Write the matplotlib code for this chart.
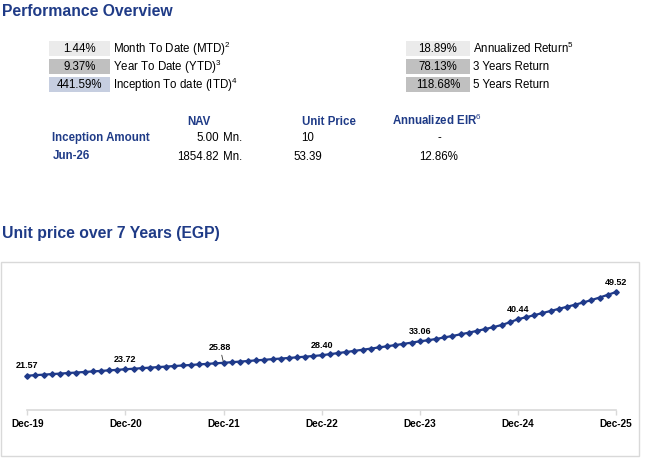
import matplotlib
matplotlib.use("Agg")
import matplotlib.pyplot as plt
from matplotlib.patches import Rectangle

plt.rcParams['font.family'] = ['Liberation Sans', 'DejaVu Sans']
plt.rcParams['mathtext.fontset'] = 'custom'
plt.rcParams['mathtext.rm'] = 'Liberation Sans'

# ---- data ----
left_values = ["1.44%", "9.37%", "441.59%"]
left_labels = ["Month To Date (MTD)$^{2}$", "Year To Date (YTD)$^{3}$", "Inception To date (ITD)$^{4}$"]
right_values = ["18.89%", "78.13%", "118.68%"]
right_labels = ["Annualized Return$^{5}$", "3 Years Return", "5 Years Return"]

table_headers = ["NAV", "Unit Price", "Annualized EIR$^{6}$"]
table_rows = ["Inception Amount", "Jun-26"]
nav_values = ["5.00", "1854.82"]
unit_prices = ["10", "53.39"]
eir_values = ["-", "12.86%"]

year_labels = ["Dec-19", "Dec-20", "Dec-21", "Dec-22", "Dec-23", "Dec-24", "Dec-25"]
# monthly unit price, Dec-19 .. Dec-25
unit_price = [
    21.57, 21.75, 21.92, 22.10, 22.27, 22.45, 22.63, 22.81, 22.99, 23.17, 23.35, 23.53,
    23.72, 23.90, 24.08, 24.26, 24.44, 24.62, 24.80, 24.98, 25.16, 25.34, 25.52, 25.70,
    25.88, 26.08, 26.28, 26.48, 26.69, 26.89, 27.10, 27.30, 27.50, 27.71, 27.93, 28.16,
    28.40, 28.76, 29.12, 29.49, 29.86, 30.24, 30.62, 31.01, 31.40, 31.80, 32.20, 32.62,
    33.06, 33.40, 33.85, 34.35, 34.85, 35.40, 35.95, 36.55, 37.15, 37.80, 38.50, 39.40,
    40.44, 41.10, 41.80, 42.50, 43.20, 43.90, 44.60, 45.30, 46.05, 46.85, 47.70, 48.60,
    49.52,
]

W, H = 652, 461
BLUE = '#1F3B87'
LINE = '#1F3A8A'

fig = plt.figure(figsize=(W / 100, H / 100), dpi=100)

# background axes in pixel coordinates for the text block
bg = fig.add_axes([0, 0, 1, 1])
bg.set_xlim(0, W)
bg.set_ylim(H, 0)
bg.axis('off')

bg.text(2, 12, "Performance Overview", fontsize=11.3, fontweight='bold', color=BLUE, va='center')
bg.text(2, 233, "Unit price over 7 Years (EGP)", fontsize=11.3, fontweight='bold', color=BLUE, va='center')

# return boxes
row_y = [41, 59, 77]
left_colors = ['#EBEBEB', '#C0C0C0', '#C6CEE0']
right_colors = ['#EBEBEB', '#C0C0C0', '#C0C0C0']
for i in range(3):
    y = row_y[i]
    bg.add_patch(Rectangle((49.3, y), 60.4, 14.7, facecolor=left_colors[i], edgecolor='none'))
    bg.text(79.5, y + 7.6, left_values[i], fontsize=8.3, ha='center', va='center')
    bg.text(113.3, y + 7.6, left_labels[i], fontsize=8.3, ha='left', va='center')
    bg.add_patch(Rectangle((406, y), 64, 14.7, facecolor=right_colors[i], edgecolor='none'))
    bg.text(438, y + 7.6, right_values[i], fontsize=8.3, ha='center', va='center')
    bg.text(473.3, y + 7.6, right_labels[i], fontsize=8.3, ha='left', va='center')

# NAV table
bg.text(199, 121.5, table_headers[0], fontsize=8.3, fontweight='bold', color=BLUE, ha='center', va='center')
bg.text(329, 121.5, table_headers[1], fontsize=8.3, fontweight='bold', color=BLUE, ha='center', va='center')
bg.text(437, 120.5, table_headers[2], fontsize=8.3, fontweight='bold', color=BLUE, ha='center', va='center')
table_y = [137.5, 156]
for i in range(2):
    y = table_y[i]
    bg.text(52.3, y, table_rows[i], fontsize=8.3, fontweight='bold', color=BLUE, ha='left', va='center')
    bg.text(219, y + 0.8, nav_values[i], fontsize=8.3, ha='right', va='center')
    bg.text(223, y + 0.8, "Mn.", fontsize=8.3, ha='left', va='center')
    bg.text(308, y + 0.8, unit_prices[i], fontsize=8.3, ha='center', va='center')
    bg.text(439, y + 0.8, eir_values[i], fontsize=8.3, ha='center', va='center')

# chart border
bg.add_patch(Rectangle((1, 261.5), 638, 194.5, facecolor='none', edgecolor='#D9D9D9', lw=1.0))

# ---- line chart ----
x0, x1 = 27.3, 616
y_top, y_bot = 260.7, 410.3
ax = fig.add_axes([x0 / W, 1 - y_bot / H, (x1 - x0) / W, (y_bot - y_top) / H])
ax.patch.set_alpha(0)
xs = list(range(len(unit_price)))
ax.plot(xs, unit_price, color=LINE, lw=1.6, marker='D', ms=2.8, mfc=LINE, mec=LINE, clip_on=False)
ax.set_xlim(0, len(unit_price) - 1)
ax.set_ylim(10, 60)

for sp in ['top', 'right', 'left']:
    ax.spines[sp].set_visible(False)
ax.spines['bottom'].set_color('#D9D9D9')
ax.spines['bottom'].set_linewidth(1.2)
ax.set_yticks([])
ax.set_xticks(xs[::12])
ax.set_xticklabels(year_labels, fontsize=7.2, fontweight='bold')
ax.tick_params(axis='x', length=3.6, width=1.0, color='#D9D9D9', pad=2.5)

for j, idx in enumerate(xs[::12]):
    val = unit_price[idx]
    if j == 2:
        ax.annotate(f"{val:.2f}", (idx, val), xytext=(-2.5, 7.5), textcoords='offset points',
                    ha='center', va='bottom', fontsize=6.5, fontweight='bold',
                    arrowprops=dict(arrowstyle='-', lw=0.6, color='#333333', shrinkA=0, shrinkB=1))
    else:
        ax.annotate(f"{val:.2f}", (idx, val), xytext=(0, 4), textcoords='offset points',
                    ha='center', va='bottom', fontsize=6.5, fontweight='bold')

fig.savefig('out.png', dpi=100)
